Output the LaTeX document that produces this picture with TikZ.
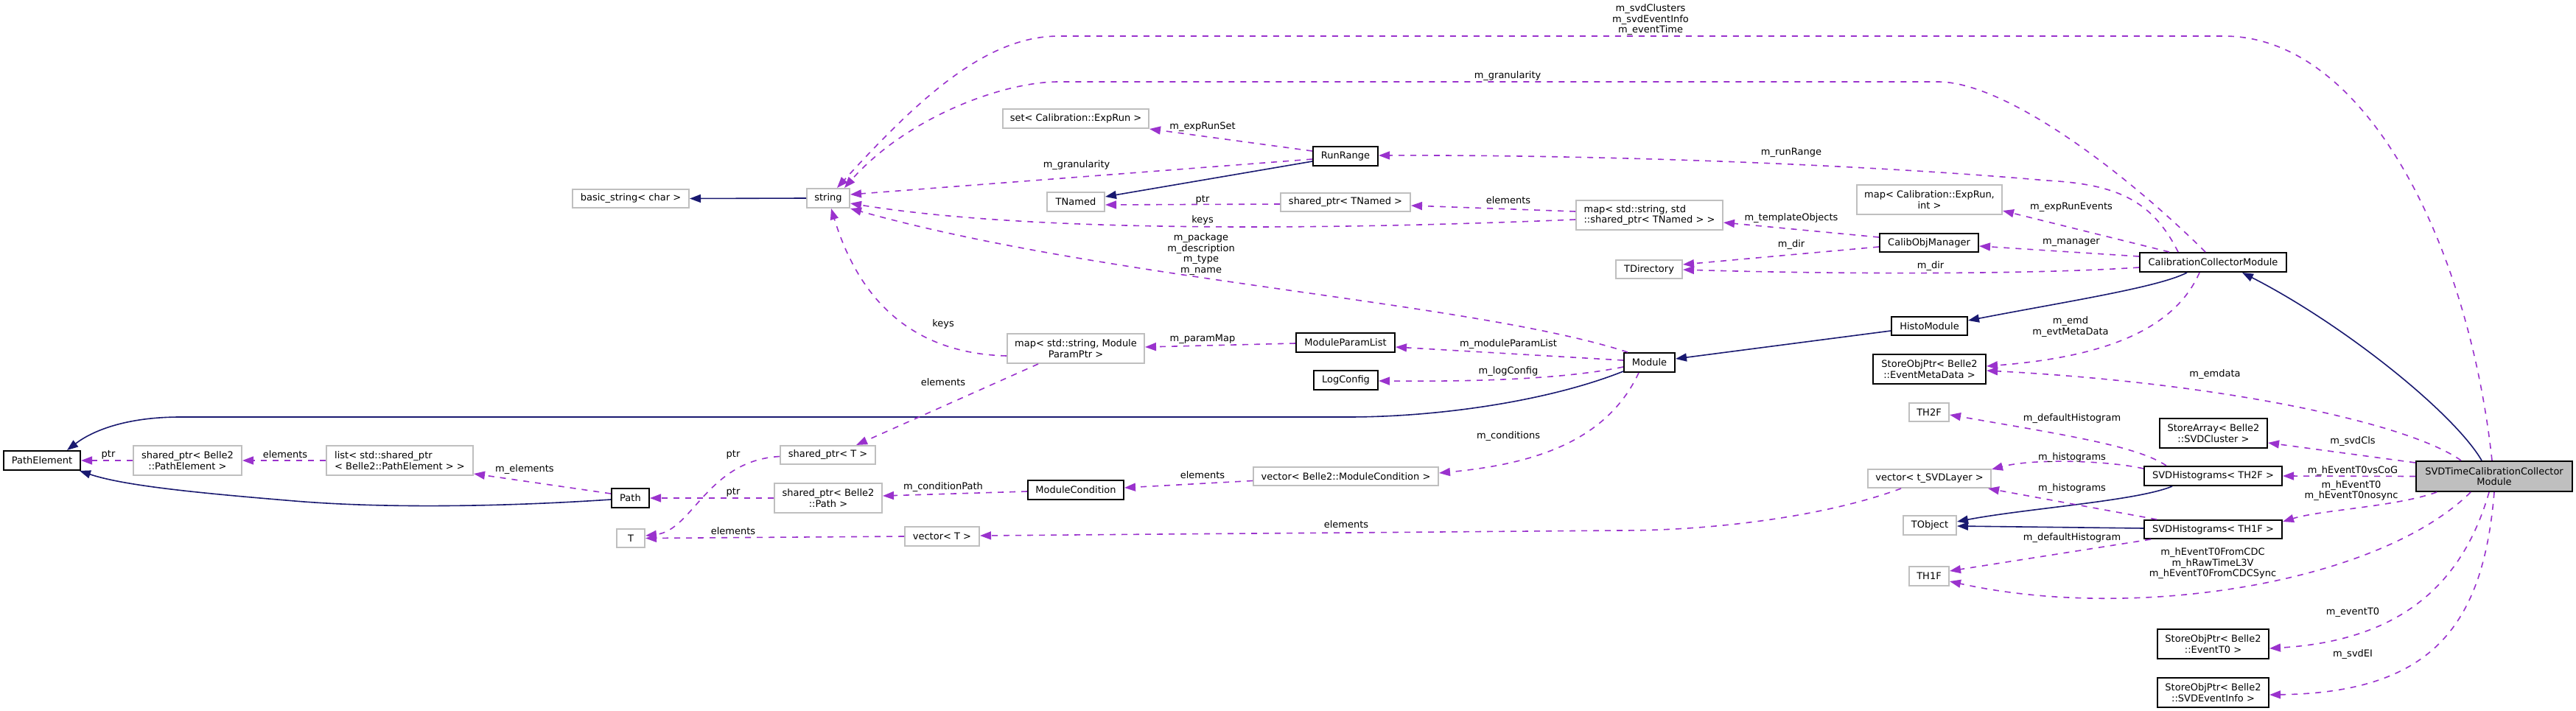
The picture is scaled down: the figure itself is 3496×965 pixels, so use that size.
\documentclass[tikz,border=0pt]{standalone}
\usepackage{fontspec}
\setmainfont{DejaVu Sans}
\usetikzlibrary{arrows.meta,calc}
\definecolor{depc}{HTML}{9A32CD}
\definecolor{navyc}{HTML}{191970}
\definecolor{boxgray}{HTML}{BFBFBF}
\newcommand\dvf{\fontsize{13pt}{14.5pt}\selectfont}
\tikzset{
  nd/.style={draw, line width=2pt, inner sep=0pt, font=\dvf, align=center, fill=white},
  gb/.style={nd, draw=boxgray},
  bb/.style={nd, draw=black},
  dep/.style={draw=depc, line width=1.6pt, dash pattern=on 8pt off 8pt, -{Triangle[length=15pt,width=11pt]}},
  inh/.style={draw=navyc, line width=1.6pt, -{Triangle[length=15pt,width=11pt]}},
  lab/.style={font=\dvf, inner sep=0pt, align=center},
  sz/.style 2 args={minimum width=#1pt, minimum height=#2pt},
}
\begin{document}
\begin{tikzpicture}[x=1pt,y=-1pt]
\useasboundingbox (0,0) rectangle (3496,965);
% nodes
\node[bb,sz={104}{26}] (PE) at (57,625) {PathElement};
\node[gb,sz={147}{40}] (spPE) at (254.5,625) {shared\_ptr< Belle2\\::PathElement >};
\node[gb,sz={199}{40},align=left] (listPE) at (542.5,625) {list< std::shared\_ptr\\< Belle2::PathElement > >};
\node[gb,sz={158}{25}] (bstr) at (856,269.5) {basic\_string< char >};
\node[gb,sz={58}{26}] (str) at (1124,269) {string};
\node[bb,sz={51}{26}] (Path) at (855.5,676) {Path};
\node[gb,sz={38}{25}] (T) at (856,730.5) {T};
\node[gb,sz={129}{25}] (spT) at (1123.5,617.5) {shared\_ptr< T >};
\node[gb,sz={146}{40}] (spPath) at (1124,676) {shared\_ptr< Belle2\\::Path >};
\node[gb,sz={101}{26}] (vecT) at (1278.5,728) {vector< T >};
\node[gb,sz={198}{26}] (setER) at (1460,161) {set< Calibration::ExpRun >};
\node[gb,sz={78}{26}] (TNamed) at (1460,274) {TNamed};
\node[gb,sz={186}{40}] (mapMP) at (1460,473) {map< std::string, Module\\ParamPtr >};
\node[bb,sz={130}{26}] (MC) at (1460,665) {ModuleCondition};
\node[bb,sz={88}{26}] (RR) at (1826,212) {RunRange};
\node[gb,sz={176}{25}] (spTN) at (1826,274.5) {shared\_ptr< TNamed >};
\node[bb,sz={134}{26}] (MPL) at (1826,465) {ModuleParamList};
\node[bb,sz={87}{26}] (LC) at (1826.5,516) {LogConfig};
\node[gb,sz={251}{25}] (vecMC) at (1826.5,646.5) {vector< Belle2::ModuleCondition >};
\node[gb,sz={199}{40},align=left] (mapTN) at (2238.5,292) {map< std::string, std\\::shared\_ptr< TNamed > >};
\node[gb,sz={90}{25}] (TDir) at (2238,365.5) {TDirectory};
\node[bb,sz={69}{26}] (Mod) at (2238.5,492) {Module};
\node[gb,sz={197}{40}] (mapER) at (2618.5,271) {map< Calibration::ExpRun,\\int >};
\node[bb,sz={134}{25}] (COM) at (2618,329.5) {CalibObjManager};
\node[bb,sz={103}{25}] (HM) at (2618.5,442.5) {HistoModule};
\node[bb,sz={153}{40}] (soEMD) at (2618.5,501) {StoreObjPtr< Belle2\\::EventMetaData >};
\node[gb,sz={54}{25}] (TH2F) at (2618,559.5) {TH2F};
\node[gb,sz={167}{25}] (vecSL) at (2618.5,649.5) {vector< t\_SVDLayer >};
\node[gb,sz={72}{26}] (TObj) at (2619,713) {TObject};
\node[gb,sz={54}{26}] (TH1F) at (2618,782) {TH1F};
\node[bb,sz={199}{26}] (CCM) at (3003.5,356) {CalibrationCollectorModule};
\node[bb,sz={146}{40}] (saSVD) at (3004,588) {StoreArray< Belle2\\::SVDCluster >};
\node[bb,sz={187}{26}] (SH2F) at (3003.5,646) {SVDHistograms< TH2F >};
\node[bb,sz={187}{25}] (SH1F) at (3003.5,718.5) {SVDHistograms< TH1F >};
\node[bb,sz={151}{40}] (soT0) at (3003.5,874) {StoreObjPtr< Belle2\\::EventT0 >};
\node[bb,sz={151}{40}] (soEI) at (3003.5,940) {StoreObjPtr< Belle2\\::SVDEventInfo >};
\node[bb,sz={212}{41},fill=boxgray] (SVDT) at (3385,646.5) {SVDTimeCalibrationCollector\\Module};
% inheritance
\draw[inh] (str.west) -- (bstr.east);
\draw[inh] ($(RR.west)+(0,7)$) -- ($(TNamed.east)+(0,-7)$);
\draw[inh] ($(Mod.south west)+(0,-2)$) .. controls (2100,545) and (1950,566) .. (1830,566) -- (245,566) .. controls (170,566) and (125,585) .. ($(PE.north)+(34,0)$);
\draw[inh] ($(Path.west)+(0,2)$) .. controls (680,688) and (520,690) .. (400,680) .. controls (280,670) and (170,660) .. ($(PE.south east)+(-2,0)$);
\draw[inh] ($(HM.west)+(0,6.5)$) -- ($(Mod.east)+(0,-5)$);
\draw[inh] ($(CCM.south)+(-35.5,0)$) .. controls (2930,390) and (2800,410) .. ($(HM.east)+(0,-7.5)$);
\draw[inh] ($(SVDT.north)+(-17,0)$) .. controls (3330,560) and (3180,440) .. ($(CCM.south)+(39.5,0)$);
\draw[inh] ($(SH2F.south)+(-55.5,0)$) .. controls (2900,680) and (2750,690) .. ($(TObj.east)+(0,-5)$);
\draw[inh] ($(SH1F.west)+(0,-1.5)$) -- ($(TObj.east)+(0,1)$);
% usage
\draw[dep] ($(SVDT.north)+(-3,0)$) .. controls (3350,330) and (3210,49) .. (3018,49) -- (1437,49) .. controls (1340,49) and (1250,130) .. ($(str.north)+(12,0)$);
\draw[dep] ($(CCM.north)+(-10.5,0)$) .. controls (2880,230) and (2720,111) .. (2630,111) -- (1437,111) .. controls (1360,111) and (1230,160) .. ($(str.north)+(22,0)$);
\draw[dep] ($(RR.west)+(0,4)$) -- ($(str.east)+(0,-5)$);
\draw[dep] ($(RR.west)+(0,-7)$) -- (setER.south east);
\draw[dep] ($(CCM.north)+(-47.5,0)$) .. controls (2920,270) and (2870,250) .. (2778,245) .. controls (2550,225) and (2200,210) .. ($(RR.east)+(0,-1)$);
\draw[dep] ($(spTN.west)+(0,2.5)$) -- ($(TNamed.east)+(0,4)$);
\draw[dep] ($(mapTN.west)+(0,-5)$) -- ($(spTN.east)+(0,4.5)$);
\draw[dep] ($(mapTN.west)+(0,6)$) .. controls (1800,312) and (1400,316) .. ($(str.east)+(0,7)$);
\draw[dep] ($(COM.west)+(0,-7.5)$) -- ($(mapTN.east)+(0,10)$);
\draw[dep] ($(COM.west)+(0,5.5)$) -- ($(TDir.east)+(0,-6.5)$);
\draw[dep] ($(CCM.west)+(0,7)$) .. controls (2750,373) and (2480,372) .. ($(TDir.east)+(0,0.5)$);
\draw[dep] ($(CCM.north)+(-59.5,0)$) -- ($(mapER.east)+(0,15)$);
\draw[dep] ($(CCM.west)+(0,-8)$) -- ($(COM.east)+(0,4.5)$);
\draw[dep] ($(CCM.south)+(-18.5,0)$) .. controls (2950,450) and (2850,485) .. ($(soEMD.east)+(0,-4)$);
\draw[dep] ($(SVDT.north)+(-45,0)$) .. controls (3270,575) and (3020,520) .. ($(soEMD.east)+(0,2)$);
\draw[dep] ($(SVDT.north west)+(0,3)$) -- ($(saSVD.east)+(0,13)$);
\draw[dep] (SVDT.west) -- (SH2F.east);
\draw[dep] ($(SVDT.south)+(-78,0)$) .. controls (3250,688) and (3150,692) .. ($(SH1F.east)+(0,-10.5)$);
\draw[dep] ($(SVDT.south)+(-32,0)$) .. controls (3230,790) and (2900,845) .. ($(TH1F.east)+(0,7)$);
\draw[dep] ($(SVDT.south)+(-7,0)$) .. controls (3340,800) and (3250,870) .. ($(soT0.east)+(0,6)$);
\draw[dep] (SVDT.south) .. controls (3370,850) and (3300,940) .. ($(soEI.east)+(0,3)$);
\draw[dep] ($(SH2F.west)+(0,-10)$) .. controls (2860,625) and (2760,622) .. ($(vecSL.north east)+(0,1)$);
\draw[dep] ($(SH1F.north)+(-76.5,0)$) -- ($(vecSL.south east)+(-5,0)$);
\draw[dep] ($(SH2F.north)+(-63.5,0)$) .. controls (2900,605) and (2800,590) .. ($(TH2F.east)+(0,3.5)$);
\draw[dep] ($(SH1F.south)+(-84.5,0)$) -- ($(TH1F.east)+(0,-7)$);
\draw[dep] ($(Mod.north west)+(6,0)$) .. controls (2000,410) and (1500,380) .. (str.south east);
\draw[dep] ($(Mod.west)+(0,-3)$) -- ($(MPL.east)+(0,6)$);
\draw[dep] ($(Mod.west)+(0,6)$) .. controls (2120,515) and (2000,518) .. ($(LC.east)+(0,1)$);
\draw[dep] ($(Mod.south)+(-14.5,0)$) .. controls (2180,600) and (2080,630) .. ($(vecMC.east)+(0,-4.5)$);
\draw[dep] ($(MPL.west)+(0,1)$) -- ($(mapMP.east)+(0,-2)$);
\draw[dep] ($(mapMP.west)+(0,10)$) .. controls (1250,480) and (1170,420) .. ($(str.south)+(4,0)$);
\draw[dep] ($(mapMP.south)+(-51,0)$) -- ($(spT.north)+(38.5,0)$);
\draw[dep] ($(vecMC.west)+(0,6)$) -- ($(MC.east)+(0,-3)$);
\draw[dep] ($(MC.west)+(0,2)$) -- ($(spPath.east)+(0,-3)$);
\draw[dep] (spPath.west) -- (Path.east);
\draw[dep] ($(spT.west)+(0,2)$) .. controls (960,625) and (940,720) .. ($(T.east)+(0,-3.5)$);
\draw[dep] (vecT.west) -- (T.east);
\draw[dep] ($(vecSL.south)+(-38.5,0)$) .. controls (2480,700) and (2330,720) .. (2200,720) -- ($(vecT.east)+(0,-1)$);
\draw[dep] (listPE.west) -- (spPE.east);
\draw[dep] (spPE.west) -- (PE.east);
\draw[dep] ($(Path.west)+(0,-6)$) -- ($(listPE.south east)+(0,-3)$);
% labels
\node[lab] (l1) at (2240,27) {m\_svdClusters\\m\_svdEventInfo\\m\_eventTime};
\node[lab] (l2) at (2046,103) {m\_granularity};
\node[lab] (l3) at (1632,172) {m\_expRunSet};
\node[lab] (l4) at (1461,224) {m\_granularity};
\node[lab] (l5) at (1632,271) {ptr};
\node[lab] (l6) at (2047,272) {elements};
\node[lab] (l7) at (1632,299) {keys};
\node[lab] (l8) at (1630,345) {m\_package\\m\_description\\m\_type\\m\_name};
\node[lab] (l9) at (1280,440) {keys};
\node[lab] (l10) at (2431,207) {m\_runRange};
\node[lab] (l11) at (2431,296) {m\_templateObjects};
\node[lab] (l12) at (2431,332) {m\_dir};
\node[lab] (l13) at (2811,281) {m\_expRunEvents};
\node[lab] (l14) at (2811,329) {m\_manager};
\node[lab] (l15) at (2620,361) {m\_dir};
\node[lab] (l16) at (2810,443.5) {m\_emd\\m\_evtMetaData};
\node[lab] (l17) at (1632,460) {m\_paramMap};
\node[lab] (l18) at (2047,467) {m\_moduleParamList};
\node[lab] (l19) at (1280,519) {elements};
\node[lab] (l20) at (2047,504) {m\_logConfig};
\node[lab] (l21) at (2047,592) {m\_conditions};
\node[lab] (l22) at (1632,645) {elements};
\node[lab] (l23) at (1280,661) {m\_conditionPath};
\node[lab] (l24) at (1827,712) {elements};
\node[lab] (l25) at (147,617) {ptr};
\node[lab] (l26) at (387,617) {elements};
\node[lab] (l27) at (712,637) {m\_elements};
\node[lab] (l28) at (995,617) {ptr};
\node[lab] (l29) at (995,668) {ptr};
\node[lab] (l30) at (995,721) {elements};
\node[lab] (l31) at (3006,508) {m\_emdata};
\node[lab] (l32) at (2812,568) {m\_defaultHistogram};
\node[lab] (l33) at (3193,599) {m\_svdCls};
\node[lab] (l34) at (2812,621) {m\_histograms};
\node[lab] (l35) at (3193,639) {m\_hEventT0vsCoG};
\node[lab] (l36) at (2812,663) {m\_histograms};
\node[lab] (l37) at (3191,666) {m\_hEventT0\\m\_hEventT0nosync};
\node[lab] (l38) at (2812,730) {m\_defaultHistogram};
\node[lab] (l39) at (3003,765) {m\_hEventT0FromCDC\\m\_hRawTimeL3V\\m\_hEventT0FromCDCSync};
\node[lab] (l40) at (3193,831) {m\_eventT0};
\node[lab] (l41) at (3193,888) {m\_svdEI};
\end{tikzpicture}
\end{document}
